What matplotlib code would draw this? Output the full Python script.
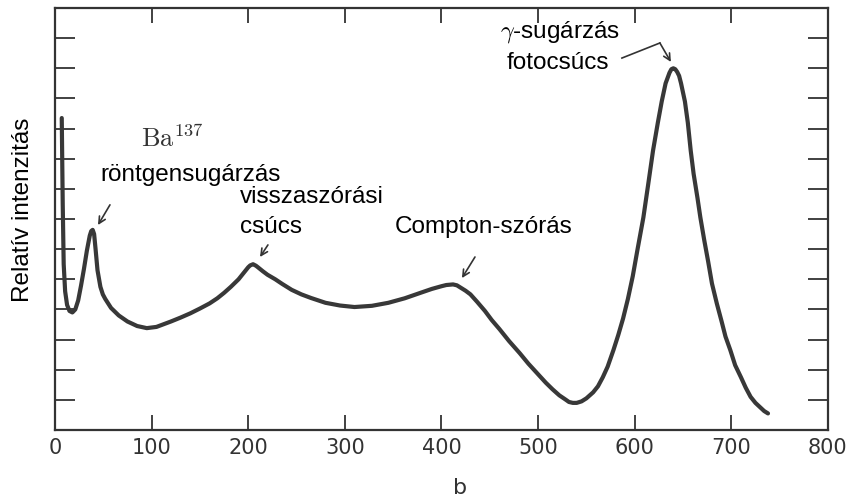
import matplotlib.pyplot as plt
import numpy as np

plt.rcParams['mathtext.fontset'] = 'cm'

# spectrum (b channel, relative intensity)
b = [7, 8, 9, 10.5, 12.5, 15, 18, 21, 24, 27, 30, 33, 36, 37.5, 39, 40.5, 42, 44, 47,
     49.5, 52, 58, 66, 75, 85, 95, 105, 120, 130, 140, 150, 160, 168, 175, 182, 190,
     195, 200, 202, 205, 208, 210, 215, 220, 228, 235, 245, 255, 265, 280, 295, 310,
     328, 345, 362, 380, 390, 400, 405, 412, 416, 420, 425, 430, 437, 445, 452, 460,
     470, 481, 490, 500, 508, 515, 522, 528, 532, 536, 540, 545, 550, 557, 562, 567,
     572, 578, 583, 588, 593, 598, 603, 609, 614, 619, 624, 628, 630, 632, 636, 638,
     640, 642, 644, 646, 648, 650, 652, 655, 658, 661, 665, 668, 672, 676, 680, 685,
     690, 694, 699, 704, 710, 715, 720, 725, 730, 734, 738]
intensity = [10.35, 7.5, 5.5, 4.6, 4.15, 3.95, 3.9, 4.0, 4.3, 4.8, 5.35, 5.95, 6.45,
             6.6, 6.64, 6.5, 6.0, 5.3, 4.75, 4.5, 4.35, 4.05, 3.8, 3.6, 3.45, 3.38,
             3.42, 3.6, 3.73, 3.87, 4.03, 4.2, 4.37, 4.55, 4.75, 5.0, 5.2, 5.4, 5.46,
             5.5, 5.45, 5.4, 5.27, 5.15, 5.0, 4.85, 4.65, 4.5, 4.38, 4.22, 4.13, 4.08,
             4.12, 4.22, 4.37, 4.57, 4.68, 4.77, 4.81, 4.83, 4.8, 4.72, 4.62, 4.5,
             4.25, 3.95, 3.65, 3.35, 2.95, 2.55, 2.2, 1.85, 1.57, 1.35, 1.15, 1.02,
             0.93, 0.9, 0.9, 0.95, 1.05, 1.25, 1.45, 1.75, 2.1, 2.65, 3.15, 3.7, 4.35,
             5.1, 6.0, 7.05, 8.15, 9.27, 10.2, 10.9, 11.2, 11.5, 11.85, 11.97, 12.0,
             11.97, 11.88, 11.75, 11.5, 11.2, 10.9, 10.2, 9.27, 8.5, 7.7, 7.05, 6.3,
             5.6, 4.86, 4.2, 3.6, 3.1, 2.65, 2.15, 1.75, 1.4, 1.1, 0.9, 0.75, 0.63,
             0.55]

xticks = [0, 100, 200, 300, 400, 500, 600, 700, 800]
yticks = list(range(1, 14))

ink = "#333333"
sans = "Liberation Sans"

fig = plt.figure(figsize=(8.5, 5.01), dpi=100)
ax = fig.add_axes([0.0647, 0.1417, 0.9093, 0.8423])

ax.plot(b, intensity, color="#383838", lw=3.0, solid_capstyle="round",
        solid_joinstyle="round")

ax.set_xlim(0, 800)
ax.set_ylim(0, 14)
ax.set_xticks(xticks)
ax.set_xticklabels([str(t) for t in xticks], fontsize=15, color=ink)
ax.set_yticks(yticks)
ax.set_yticklabels([])
ax.tick_params(axis="x", direction="in", length=11, width=1.3, color=ink,
               top=True, pad=6)
ax.tick_params(axis="y", direction="in", length=14.4, width=1.3, color=ink,
               right=True)
for s in ax.spines.values():
    s.set_linewidth(1.6)
    s.set_color(ink)

ax.set_ylabel("Relatív intenzitás", fontsize=17.5, family=sans, color="black",
              va="center")
ax.yaxis.set_label_coords(-0.041, 0.521)
ax.set_xlabel("b", fontsize=16, color=ink, va="center")
ax.xaxis.set_label_coords(0.524, -0.137)

# labels
ax.text(121, 9.62, r"$\mathrm{Ba}^{137}$", fontsize=19, ha="center", va="center",
        color=ink)
ax.text(46.6, 8.46, "röntgensugárzás", fontsize=17.5, family=sans, va="center")
ax.text(191.5, 7.73, "visszaszórási", fontsize=17.5, family=sans, va="center")
ax.text(191.5, 6.74, "csúcs", fontsize=17.5, family=sans, va="center")
ax.text(352, 6.74, "Compton-szórás", fontsize=17.5, family=sans, va="center")
ax.text(460.5, 13.2, r"$\gamma$" + "-sugárzás", fontsize=17.5, family=sans,
        va="center")
ax.text(467.8, 12.18, "fotocsúcs", fontsize=17.5, family=sans, va="center")

arrow = dict(arrowstyle="->", color=ink, lw=1.2, shrinkA=0, shrinkB=0,
             mutation_scale=12)
ax.annotate("", xy=(44.5, 6.8), xytext=(56.9, 7.47), arrowprops=arrow)
ax.annotate("", xy=(212.2, 5.74), xytext=(220.4, 6.14), arrowprops=arrow)
ax.annotate("", xy=(421.2, 5.04), xytext=(434.7, 5.74), arrowprops=arrow)
ax.plot([586.8, 626.1], [12.34, 12.84], color=ink, lw=1.2)
ax.annotate("", xy=(637.5, 12.21), xytext=(626.1, 12.84), arrowprops=arrow)

fig.savefig("out.png", dpi=100)
